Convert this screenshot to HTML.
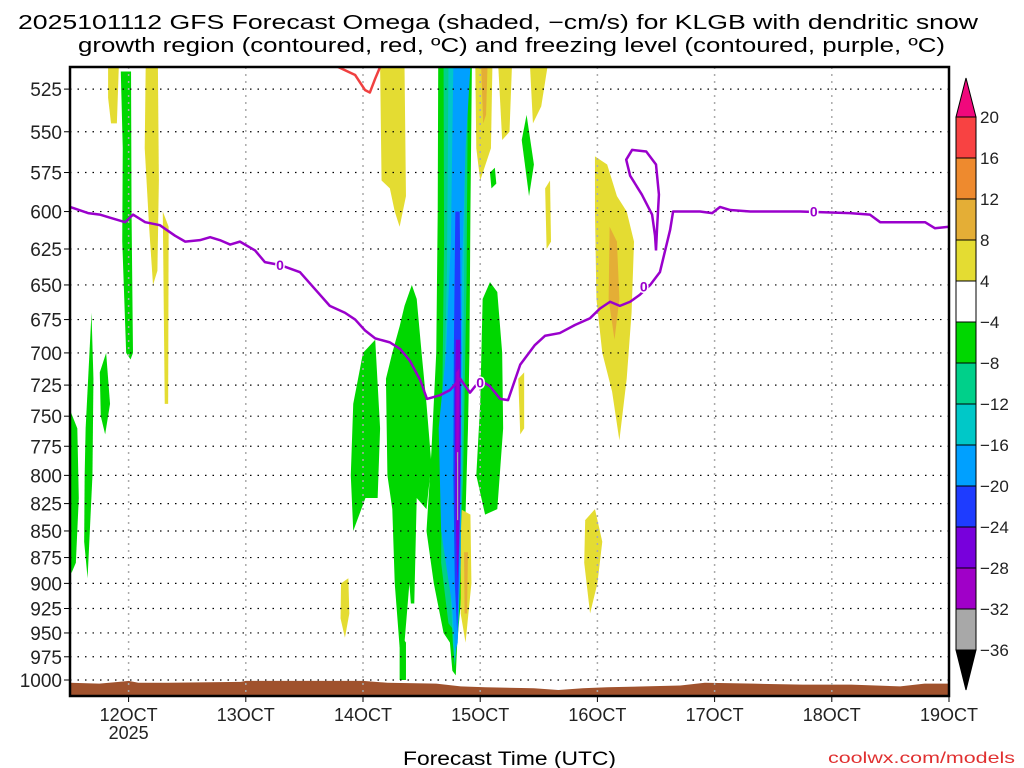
<!DOCTYPE html>
<html><head><meta charset="utf-8"><style>
html,body{margin:0;padding:0;background:#fff;}
svg{display:block;font-family:"Liberation Sans","DejaVu Sans",sans-serif;}
</style></head><body>
<svg id="c" width="1024" height="768" viewBox="0 0 1024 768" xmlns="http://www.w3.org/2000/svg">
<text x="18" y="29" textLength="960" lengthAdjust="spacingAndGlyphs" font-size="20" fill="#000">2025101112 GFS Forecast Omega (shaded, −cm/s) for KLGB with dendritic snow</text>
<text x="78" y="52" textLength="867" lengthAdjust="spacingAndGlyphs" font-size="20" fill="#000">growth region (contoured, red, ºC) and freezing level (contoured, purple, ºC)</text>
<text x="403" y="765" textLength="213" lengthAdjust="spacingAndGlyphs" font-size="19" fill="#000">Forecast Time (UTC)</text>
<text x="828" y="763" textLength="187" lengthAdjust="spacingAndGlyphs" font-size="16" fill="#e03030">coolwx.com/models</text>
<g id="plot"></g>
</svg>
<script>
const pressureTicks=[525,550,575,600,625,650,675,700,725,750,775,800,825,850,875,900,925,950,975,1000];
const dayTickHours=[12,36,60,84,108,132,156,180];
const dayTickLabels=['12OCT','13OCT','14OCT','15OCT','16OCT','17OCT','18OCT','19OCT'];
const cbLevels=[20,16,12,8,4,-4,-8,-12,-16,-20,-24,-28,-32,-36];
const cbColors=['#f84242','#ee8a2e','#e4ae36','#e4dc32','#ffffff','#00d700','#00d08a','#00c8c8','#00a0ff','#1e3cff','#7800dc','#a000c8','#a8a8a8'];
const freezeHours=[0,3.7,6.1,8.2,11.3,12.9,15.4,18.4,21.5,23.6,26.6,28.7,30.7,32.8,34.8,37.9,39.9,43,47.1,51.2,53.2,56.3,58.4,60.4,62.5,65.5,67.6,69.6,71.7,73.1,75.8,77.8,79.9,81.9,84,86,88.1,89.7,92.2,95.2,97.3,100.3,103.4,106.5,108.5,110.6,112.6,114.7,116.7,118.8,120.8,122.9,123.5,129,131.5,133.1,135.2,139.3,149.5,159.7,163.8,165.9,175.1,177.1,180];
const freezeP=[597,601,602,604,607,602,607,609,616,620,619,617,619,622,620,626,634,636,641,657,665,670,675,683,689,692,697,706,721,736,733,729,720,731,721,726,736,737,709,694,687,685,679,674,667,662,665,662,657,650,641,612,600,600,601,597,599,600,600,601,602,607,607,611,610];
const loopHours=[120,120.2,120.6,120,118,115.1,113.9,114.7,117.1,119.2,119.8,120];
const loopP=[626,612,589,570,562,561,567,577,589,602,616,626];
const dgzHours=[54.9,58.4,60.4,61.4,62.5,63.5];
const dgzP=[512.5,517,525.5,527,519,512.5];
const sfcHours=[0,6,10,12,14,20,35,36,60,65,75,80,85,95,100,105,110,125,130,140,150,160,165,170,175,180];
const sfcP=[1003,1004,1002,1001,1003,1003,1002,1001,1001,1003,1004,1007,1008,1009,1011,1009,1008,1006,1003,1004,1005,1005,1006,1007,1004,1004];
const blobLevels=[-4,-4,-4,-4,-4,-4,4,4,-4,-4,-4,-4,-4,4,4,8,4,4,4,4,8,4,4,4,4,8,4,-8,-12,-16,-20,-24,-28,-32];
const blobShapes=[
[[0,745],[1.5,760],[1.8,820],[1.2,880],[0.3,890],[0,880]],
[[3.2,760],[4.4,670],[4.8,720],[4.6,800],[3.6,895],[2.9,860],[3,800]],
[[6.1,715],[7.4,700],[8.2,740],[7.2,765],[6.3,750]],
[[10.4,515],[12.5,515],[12.6,600],[12.9,700],[12.4,705],[11.5,700],[10.7,620],[10.8,560]],
[[57.5,800],[58,740],[60,700],[62.5,690],[63.5,760],[63,820],[60.5,820],[58,850]],
[[64.7,720],[66,700],[67.5,680],[68.5,665],[70,650],[71,660],[72,700],[73,740],[74,790],[73,830],[71,820],[70.5,920],[69.8,920],[69.5,900],[68.5,960],[67.5,965],[66.5,900],[66,830],[65,800]],
[[7.8,512],[10,512],[9.6,545],[8.4,545],[7.8,530]],
[[15.5,512],[18,512],[18.2,580],[17.9,640],[17,650],[16.2,610],[15.3,560]],
[[84.5,660],[86,648],[87.5,655],[88.5,700],[88.7,760],[87.5,830],[85,835],[83.2,800],[84,740]],
[[92.5,555],[93.5,540],[95,570],[94,590]],
[[86,575],[87,572],[87.3,582],[86.3,585]],
[[75.4,512],[82.3,512],[82,600],[81.8,700],[81.5,760],[80.9,850],[80,920],[79.3,960],[79,995],[78.3,990],[77.8,960],[76.5,950],[74.5,900],[73,850],[74,780],[75,700],[75.3,600]],
[[67.5,950],[68.8,960],[68.8,1000],[67.5,1000]],
[[63.5,512],[68.5,512],[68.8,590],[67.5,610],[66.5,600],[65.5,585],[63.8,580]],
[[83,512],[86.5,512],[86.2,560],[84,580],[83.2,560]],
[[84.2,512],[85.5,512],[85.2,540],[84.6,545]],
[[87.7,512],[90.5,512],[90,550],[88.5,555]],
[[94.2,512],[97.8,512],[96.5,535],[94.8,545]],
[[97.3,585],[98.3,580],[98.5,620],[97.6,625]],
[[107.5,565],[110,570],[112,590],[114,600],[115.5,620],[115,670],[114,720],[112.5,770],[111,730],[109,700],[107.8,660],[107.5,600]],
[[110.5,610],[112,620],[112.5,660],[111.5,690],[110.3,660]],
[[105.5,840],[107.5,830],[109,860],[108,900],[106.5,930],[105.3,880]],
[[55.5,900],[57,895],[57.2,930],[56.3,955],[55.4,935]],
[[91.8,720],[93,715],[93,760],[92.2,765]],
[[80,830],[82,835],[82.2,900],[81,960],[80,930]],
[[80.7,870],[81.5,870],[81.3,930],[80.8,930]],
[[19,600],[20.2,610],[20.1,740],[19.4,740]],
[[76.5,512],[81.5,512],[81.2,650],[80.5,800],[79.8,880],[79,950],[77.5,940],[76,880],[76.2,750],[76.6,620]],
[[77.5,512],[81,512],[80.7,650],[80.2,800],[79.6,880],[79.2,960],[78.8,985],[78.4,960],[77.5,860],[76.5,760],[77.2,640]],
[[78.5,512],[82,512],[81,560],[80.3,640],[80.2,760],[80,880],[79.4,960],[78.9,970],[78.2,920],[76,850],[75.5,760],[77,700],[78,620]],
[[78.9,600],[79.8,600],[80.1,700],[80,800],[79.6,900],[79.3,950],[78.8,900],[78.5,800],[78.6,700]],
[[79,690],[79.9,690],[80,760],[79.7,860],[79.3,900],[78.9,820],[78.8,740]],
[[79.1,715],[79.7,712],[79.6,780],[79.1,790]],
[[79.25,780],[79.5,780],[79.5,840],[79.25,840]]
];

const L=70,R=949,T=67,B=696,H0=0,H1=180,PT=512.5,PB=1017.6;
const xS=h=>L+(h-H0)/(H1-H0)*(R-L);
const yS=p=>T+Math.log(p/PT)/Math.log(PB/PT)*(B-T);
const NS='http://www.w3.org/2000/svg';
const g=document.getElementById('plot');
function mk(tag,attrs,parent){const e=document.createElementNS(NS,tag);for(const k in attrs)e.setAttribute(k,attrs[k]);(parent||g).appendChild(e);return e;}
function colorFor(v){const i=cbLevels.findIndex((l,j)=>j<cbLevels.length-1&&v<=l&&v>=cbLevels[j+1]);return cbColors[Math.max(0,i)];}

const clip=mk('clipPath',{id:'pc'});mk('rect',{x:L,y:T,width:R-L,height:B-T},clip);
const shade=mk('g',{'clip-path':'url(#pc)'});


blobShapes.forEach((s,i)=>{
  const lv=blobLevels[i];
  const c=lv>0?colorFor(lv+1):colorFor(lv-1);
  const e=mk('polygon',{points:s.map(q=>xS(q[0])+','+yS(q[1])).join(' '),fill:c},shade);
  
  
});
let tp='M'+xS(sfcHours[0])+','+B;
sfcHours.forEach((h,i)=>{tp+=' L'+xS(h)+','+yS(sfcP[i]);});
tp+=' L'+xS(sfcHours[sfcHours.length-1])+','+B+' Z';
const ter=mk('path',{d:tp,fill:'#a0522d'},shade);


pressureTicks.forEach(p=>{
  const y=yS(p);
  const gl=mk('line',{x1:L,x2:R,y1:y,y2:y,stroke:'#000','stroke-width':1.2,'stroke-dasharray':'1.5 6'});
  
  
  const tk=mk('line',{x1:L-6,x2:L,y1:y,y2:y,stroke:'#000','stroke-width':1});
  
  
  const t=mk('text',{x:L-8,y:y+7,'text-anchor':'end','font-size':19,fill:'#222'});
  t.textContent=p;
  
  
});
dayTickHours.forEach((h,i)=>{
  const x=xS(h);
  const gl=mk('line',{x1:x,x2:x,y1:T,y2:B,stroke:'#aaa','stroke-width':1.5,'stroke-dasharray':'2 5'});
  
  
  const tk=mk('line',{x1:x,x2:x,y1:B,y2:B+6,stroke:'#000','stroke-width':1});
  
  
  const t=mk('text',{x:x,y:B+25,'text-anchor':'middle','font-size':18,fill:'#222'});
  t.textContent=dayTickLabels[i];
  
  
});
const yr=mk('text',{x:xS(dayTickHours[0]),y:B+43,'text-anchor':'middle','font-size':18,fill:'#222'});
yr.textContent='2025';


function line(hs,ps,col,name){
  const d=hs.map((h,i)=>(i?'L':'M')+xS(h)+','+yS(ps[i])).join(' ');
  const e=mk('path',{d:d,fill:'none',stroke:col,'stroke-width':2.5,'stroke-linejoin':'round','clip-path':'url(#pc)'});
  
  
}
line(freezeHours,freezeP,'#9a00cc','freezing-level-line');
line(loopHours,loopP,'#9a00cc','freezing-level-loop');
line(dgzHours,dgzP,'#f04040','dendritic-growth-line');
const zeroLabels=[[43,636],[84,723],[117.5,651],[152.3,600]];
zeroLabels.forEach(z=>{
  const t=mk('text',{x:xS(z[0]),y:yS(z[1])+5,'text-anchor':'middle','font-size':14,'font-weight':'bold',fill:'#9a00cc',stroke:'#fff','stroke-width':3,'paint-order':'stroke'});
  t.textContent='0';
  
  
});
const fr=mk('rect',{x:L,y:T,width:R-L,height:B-T,fill:'none',stroke:'#000','stroke-width':2.5});


const cbX=956,cbW=20,cbT=117,cbStep=41;
const cb=mk('g',{});


const up=mk('polygon',{points:`${cbX},${cbT} ${cbX+cbW},${cbT} ${cbX+cbW/2},${cbT-39}`,fill:'#f0087c',stroke:'#000','stroke-width':1},cb);


cbColors.forEach((c,i)=>{
  const r=mk('rect',{x:cbX,y:cbT+i*cbStep,width:cbW,height:cbStep,fill:c,stroke:'#000','stroke-width':1},cb);
  
  
});
const cbBot=cbT+cbColors.length*cbStep;
const dn=mk('polygon',{points:`${cbX},${cbBot} ${cbX+cbW},${cbBot} ${cbX+cbW/2},${cbBot+40}`,fill:'#000',stroke:'#000','stroke-width':1},cb);


cbLevels.forEach((v,i)=>{
  const t=mk('text',{x:cbX+cbW+4,y:cbT+i*cbStep+6,'font-size':17,fill:'#222'},cb);
  t.textContent=v<0?'−'+(-v):String(v);
  
  
});
</script>
</body></html>
